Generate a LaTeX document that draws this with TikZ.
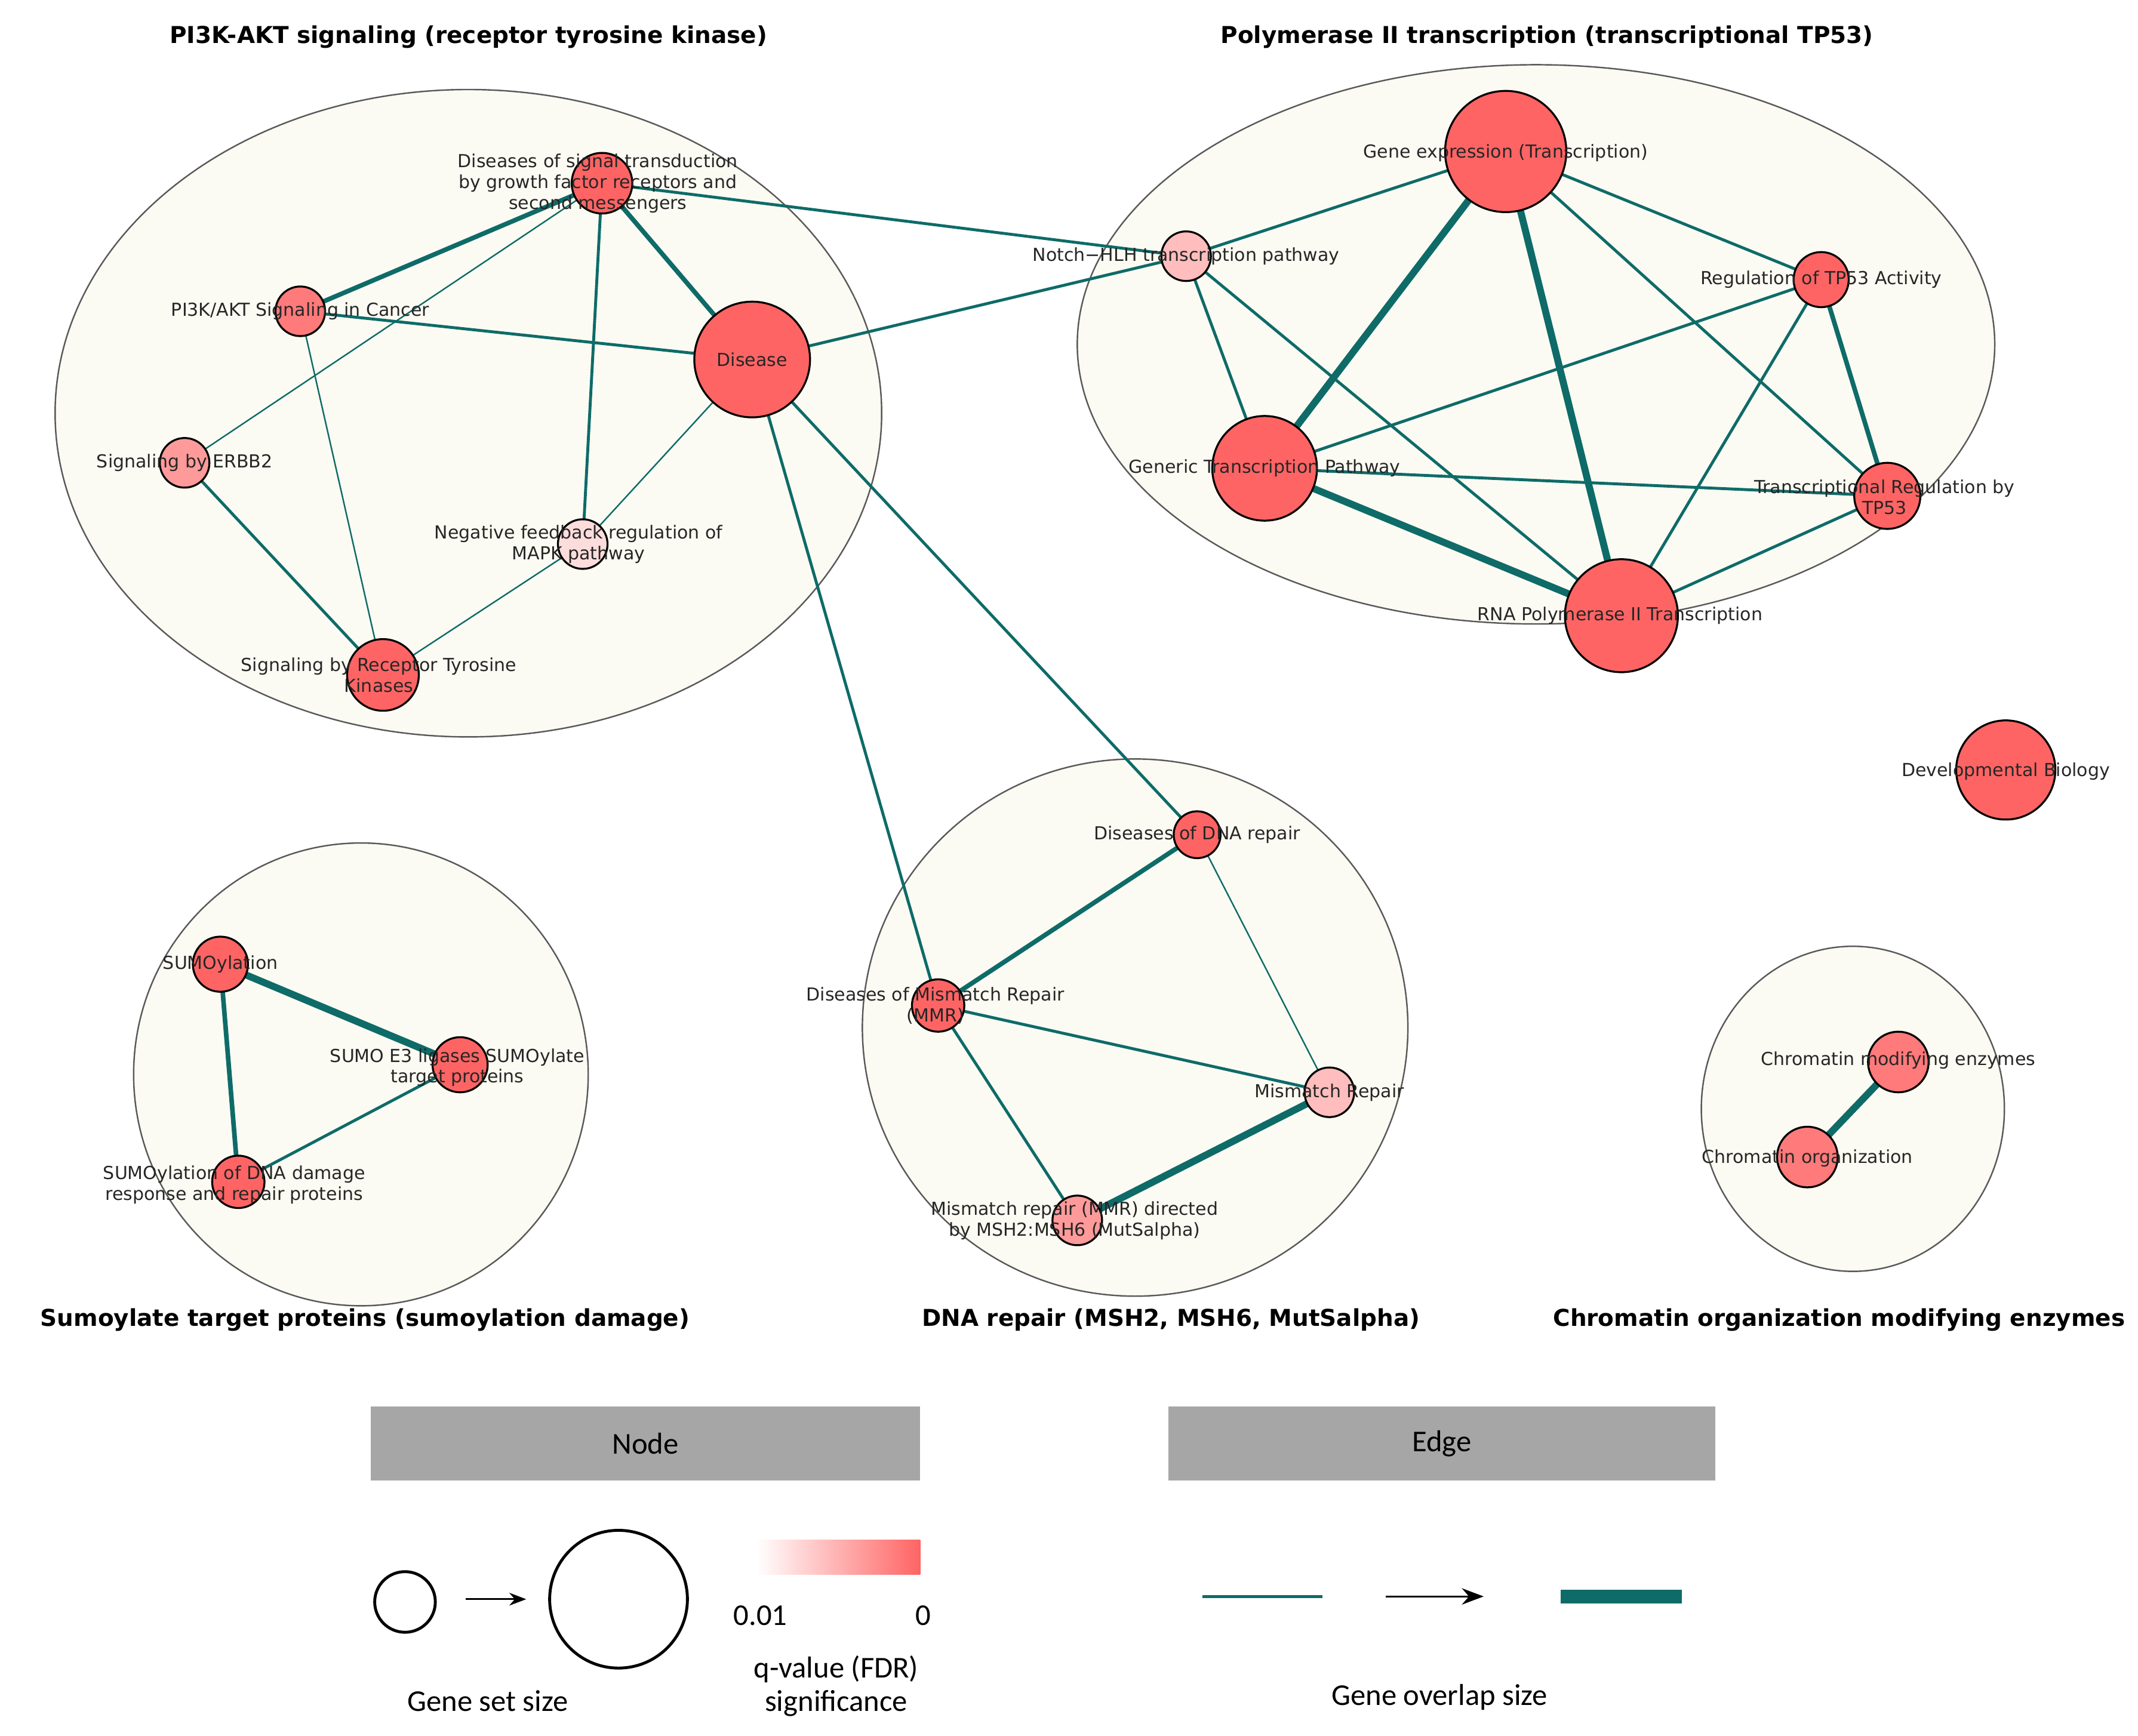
\documentclass[tikz,border=0pt]{standalone}
\usepackage{fontspec}
\setmainfont{DejaVu Sans}
\newfontfamily\legfont{Carlito}
\usetikzlibrary{arrows.meta}
\definecolor{edge}{HTML}{0E6B68}
\definecolor{bg}{HTML}{FBFBF3}
\definecolor{rA}{HTML}{FF6464}
\definecolor{rB}{HTML}{FF7A7A}
\definecolor{rC}{HTML}{FF9A9A}
\definecolor{rD}{HTML}{FFBDBD}
\definecolor{rE}{HTML}{FDDCDC}
\tikzset{
  cl/.style={draw=black!65,fill=bg,line width=0.6pt},
  e1/.style={draw=edge,line width=0.6pt},
  e2/.style={draw=edge,line width=1.2pt},
  e3/.style={draw=edge,line width=1.9pt},
  e4/.style={draw=edge,line width=2.9pt},
  gs/.style 2 args={circle,draw=black,line width=0.8pt,fill=#2,minimum size=#1*0.02cm,inner sep=0pt},
  lb/.style={font=\fontsize{7.4}{8.6}\selectfont,align=center,text=black!85,inner sep=0pt},
  ttl/.style={font=\bfseries\fontsize{9.6}{11}\selectfont},
  leg/.style={font=\legfont\fontsize{12.5}{14}\selectfont,align=center},
}
\begin{document}
\begin{tikzpicture}[x=0.02cm,y=-0.02cm]
\useasboundingbox (0,0) rectangle (1552,1260);
% clusters
\draw[cl] (340,300) ellipse (300 and 235);
\draw[cl] (1115,250) ellipse (333 and 203);
\draw[cl] (262,780) ellipse (165 and 168);
\draw[cl] (824,746) ellipse (198 and 195);
\draw[cl] (1345,805) ellipse (110 and 118);
% coordinates
\coordinate (dst) at (437,133);
\coordinate (pi3k) at (218,226);
\coordinate (dis) at (546,261);
\coordinate (erbb) at (134,336);
\coordinate (neg) at (423,395);
\coordinate (rtk) at (278,490);
\coordinate (ge) at (1093,110);
\coordinate (notch) at (861,186);
\coordinate (reg) at (1322,203);
\coordinate (gen) at (918,340);
\coordinate (ttp) at (1370,360);
\coordinate (rna) at (1177,447);
\coordinate (dev) at (1456,559);
\coordinate (sumo) at (160,700);
\coordinate (e3) at (334,773);
\coordinate (sdna) at (173,858);
\coordinate (ddr) at (869,606);
\coordinate (mmr) at (681,730);
\coordinate (mr) at (965,793);
\coordinate (mmrd) at (782,886);
\coordinate (cme) at (1378,771);
\coordinate (co) at (1312,840);
% edges
\draw[e3] (dst)--(pi3k); \draw[e3] (dst)--(dis); \draw[e1] (dst)--(erbb);
\draw[e2] (dst)--(neg); \draw[e2] (dst)--(notch); \draw[e2] (pi3k)--(dis);
\draw[e1] (pi3k)--(rtk); \draw[e2] (erbb)--(rtk); \draw[e1] (dis)--(neg);
\draw[e1] (neg)--(rtk); \draw[e2] (dis)--(notch); \draw[e2] (dis)--(mmr);
\draw[e2] (dis)--(ddr);
\draw[e2] (ge)--(notch); \draw[e4] (ge)--(gen); \draw[e4] (ge)--(rna);
\draw[e2] (ge)--(reg); \draw[e2] (ge)--(ttp); \draw[e2] (notch)--(gen);
\draw[e2] (notch)--(rna); \draw[e2] (reg)--(gen); \draw[e3] (reg)--(ttp);
\draw[e2] (reg)--(rna); \draw[e2] (gen)--(ttp); \draw[e4] (gen)--(rna);
\draw[e2] (ttp)--(rna);
\draw[e4] (sumo)--(e3); \draw[e3] (sumo)--(sdna); \draw[e2] (e3)--(sdna);
\draw[e3] (ddr)--(mmr); \draw[e1] (ddr)--(mr); \draw[e2] (mmr)--(mr);
\draw[e2] (mmr)--(mmrd); \draw[e4] (mr)--(mmrd);
\draw[e4] (cme)--(co);
% gene set circles
\node[gs={44}{rA}] (ndst) at (dst) {};
\node[gs={36}{rB}] (npi3k) at (pi3k) {};
\node[gs={84}{rA}] (ndis) at (dis) {};
\node[gs={36}{rC}] (nerbb) at (erbb) {};
\node[gs={36}{rE}] (nneg) at (neg) {};
\node[gs={52}{rA}] (nrtk) at (rtk) {};
\node[gs={88}{rA}] (nge) at (ge) {};
\node[gs={36}{rD}] (nnotch) at (notch) {};
\node[gs={40}{rA}] (nreg) at (reg) {};
\node[gs={76}{rA}] (ngen) at (gen) {};
\node[gs={48}{rA}] (nttp) at (ttp) {};
\node[gs={82}{rA}] (nrna) at (rna) {};
\node[gs={72}{rA}] (ndev) at (dev) {};
\node[gs={40}{rA}] (nsumo) at (sumo) {};
\node[gs={40}{rA}] (ne3) at (e3) {};
\node[gs={38}{rA}] (nsdna) at (sdna) {};
\node[gs={34}{rA}] (nddr) at (ddr) {};
\node[gs={38}{rA}] (nmmr) at (mmr) {};
\node[gs={36}{rD}] (nmr) at (mr) {};
\node[gs={36}{rC}] (nmmrd) at (mmrd) {};
\node[gs={44}{rB}] (ncme) at (cme) {};
\node[gs={44}{rB}] (nco) at (co) {};
% labels
\node[lb] (l1) at (434,133) {Diseases of signal transduction\\by growth factor receptors and\\second messengers};
\node[lb] (l2) at (218,226) {PI3K/AKT Signaling in Cancer};
\node[lb] (l3) at (546,261) {Disease};
\node[lb] (l4) at (134,336) {Signaling by ERBB2};
\node[lb] (l5) at (420,395) {Negative feedback regulation of\\MAPK pathway};
\node[lb] (l6) at (275,490) {Signaling by Receptor Tyrosine\\Kinases};
\node[lb] (l7) at (1093,111) {Gene expression (Transcription)};
\node[lb] (l8) at (861,186) {Notch−HLH transcription pathway};
\node[lb] (l9) at (1322,203) {Regulation of TP53 Activity};
\node[lb] (l10) at (918,340) {Generic Transcription Pathway};
\node[lb] (l11) at (1368,361) {Transcriptional Regulation by\\TP53};
\node[lb] (l12) at (1176,447) {RNA Polymerase II Transcription};
\node[lb] (l13) at (1456,560) {Developmental Biology};
\node[lb] (l14) at (160,700) {SUMOylation};
\node[lb] (l15) at (332,775) {SUMO E3 ligases SUMOylate\\target proteins};
\node[lb] (l16) at (170,860) {SUMOylation of DNA damage\\response and repair proteins};
\node[lb] (l17) at (869,606) {Diseases of DNA repair};
\node[lb] (l18) at (679,730) {Diseases of Mismatch Repair\\(MMR)};
\node[lb] (l19) at (965,793) {Mismatch Repair};
\node[lb] (l20) at (780,886) {Mismatch repair (MMR) directed\\by MSH2:MSH6 (MutSalpha)};
\node[lb] (l21) at (1378,770) {Chromatin modifying enzymes};
\node[lb] (l22) at (1312,841) {Chromatin organization};
% titles
\node[ttl] (t1) at (340,27) {PI3K-AKT signaling (receptor tyrosine kinase)};
\node[ttl] (t2) at (1123,27) {Polymerase II transcription (transcriptional TP53)};
\node[ttl] (t3) at (265,958) {Sumoylate target proteins (sumoylation damage)};
\node[ttl] (t4) at (850,958) {DNA repair (MSH2, MSH6, MutSalpha)};
\node[ttl] (t5) at (1335,958) {Chromatin organization modifying enzymes};
% legend
\fill[black!35] (269,1021) rectangle (668,1075);
\node[leg] (hn) at (468.5,1048) {Node};
\fill[black!35] (848,1021) rectangle (1245,1075);
\node[leg] (he) at (1046.5,1048) {Edge};
\node[gs={44}{white},line width=1.2pt] (cs) at (294,1163) {};
\node[gs={100}{white},line width=1.2pt] (cb) at (449,1161) {};
\coordinate (a1) at (338,1161); \coordinate (a2) at (382,1161);
\draw[-{Stealth[length=7pt]},line width=0.7pt] (a1)--(a2);
\shade[left color=white,right color=rA] (549,1118) rectangle (668,1143);
\node[leg] (q1) at (552,1173) {0.01};
\node[leg] (q0) at (670,1173) {0};
\node[leg] (qv) at (607,1224) {q-value (FDR)\\significance};
\node[leg] (gss) at (354,1235) {Gene set size};
\coordinate (b1) at (873,1159); \coordinate (b2) at (960,1159);
\draw[e2] (b1)--(b2);
\coordinate (c1) at (1006,1159); \coordinate (c2) at (1077,1159);
\draw[-{Stealth[length=9pt]},line width=0.8pt] (c1)--(c2);
\fill[edge] (1133,1154) rectangle (1221,1164);
\node[leg] (gos) at (1045,1232) {Gene overlap size};
\end{tikzpicture}
\end{document}
